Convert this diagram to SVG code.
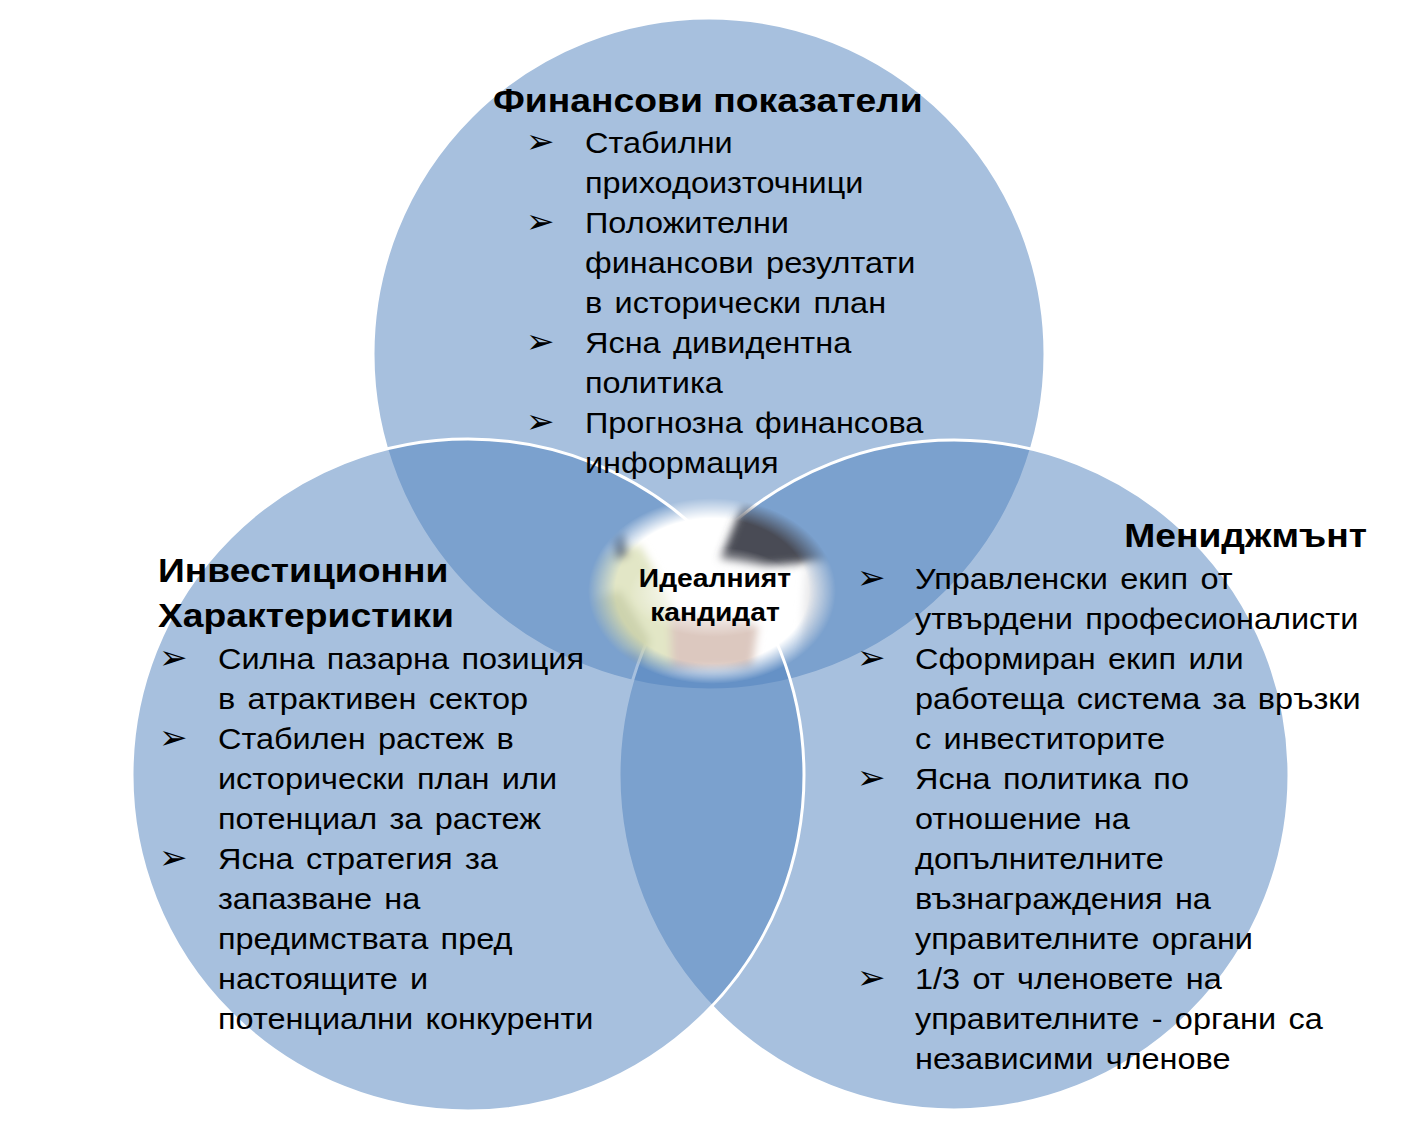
<svg xmlns="http://www.w3.org/2000/svg" width="1420" height="1127" viewBox="0 0 1420 1127">
  <style>
    .circle { fill: #4F81BD; fill-opacity: 0.5; stroke: #FFFFFF; stroke-width: 3; }
    .title { font-family: "Liberation Sans", Arial, sans-serif; font-weight: bold; font-size: 33px; fill: #000000; }
    .body { font-family: "Liberation Sans", Arial, sans-serif; font-size: 29px; fill: #000000; word-spacing: 3px; }
    .bullet { font-family: "DejaVu Sans", sans-serif; font-size: 34px; fill: #000000; }
    .center { font-family: "Liberation Sans", Arial, sans-serif; font-weight: bold; font-size: 25px; fill: #000000; text-anchor: middle; }
  </style>
  <defs>
    <radialGradient id="fade" cx="0.5" cy="0.5" r="0.5">
      <stop offset="0" stop-color="#FFFFFF" stop-opacity="1"/>
      <stop offset="0.78" stop-color="#FFFFFF" stop-opacity="1"/>
      <stop offset="1" stop-color="#FFFFFF" stop-opacity="0"/>
    </radialGradient>
    <radialGradient id="whiteCore" cx="0.5" cy="0.5" r="0.5">
      <stop offset="0" stop-color="#FFFFFF" stop-opacity="0.95"/>
      <stop offset="0.55" stop-color="#FFFFFF" stop-opacity="0.65"/>
      <stop offset="1" stop-color="#FFFFFF" stop-opacity="0"/>
    </radialGradient>
    <mask id="blobMask" maskUnits="userSpaceOnUse" x="560" y="480" width="310" height="230">
      <ellipse cx="712" cy="591" rx="124" ry="93" fill="url(#fade)"/>
    </mask>
    <filter id="blur" x="-20%" y="-20%" width="140%" height="140%">
      <feGaussianBlur stdDeviation="4"/>
    </filter>
  </defs>

  <rect x="0" y="0" width="1420" height="1127" fill="#FFFFFF"/>

  <g id="circles">
    <g id="circle-top"><circle class="circle" cx="709" cy="354" r="336"/></g>
    <g id="circle-right"><circle class="circle" cx="954" cy="775" r="335"/></g>
    <g id="circle-left"><circle class="circle" cx="468" cy="775" r="336"/></g>
  </g>

  <g id="center-image" mask="url(#blobMask)">
    <ellipse cx="712" cy="591" rx="124" ry="93" fill="#FFFFFF"/>
    <g filter="url(#blur)">
      <polygon points="745,498 835,498 838,560 765,566 720,560" fill="#4A4C55"/>
      <polygon points="585,555 640,545 672,600 672,672 585,672" fill="#E2E6C6"/>
      <polygon points="590,600 620,590 650,640 640,672 590,672" fill="#CDD3AE"/>
      <ellipse cx="627" cy="662" rx="12" ry="7" fill="#8C8C84"/>
      <polygon points="670,612 720,614 758,625 752,668 672,670" fill="#DCC8BF"/>
      <polygon points="610,535 622,530 628,555 615,560" fill="#6A6C6E"/>
      <polygon points="806,565 840,560 840,680 800,680" fill="#E8E8EA"/>
    </g>
    <ellipse cx="714" cy="592" rx="85" ry="45" fill="url(#whiteCore)"/>
  </g>

  <g id="node-finance">
    <text class="title" x="493" y="112" transform="translate(493,0) scale(1.13,1) translate(-493,0)">Финансови показатели</text>
    <g class="bullets">
      <text class="bullet" x="526" y="153">➢</text>
      <text class="bullet" x="526" y="233">➢</text>
      <text class="bullet" x="526" y="353">➢</text>
      <text class="bullet" x="526" y="433">➢</text>
    </g>
    <g transform="translate(585,0) scale(1.12,1) translate(-585,0)">
      <text class="body" x="585" y="153">Стабилни</text>
      <text class="body" x="585" y="193">приходоизточници</text>
      <text class="body" x="585" y="233">Положителни</text>
      <text class="body" x="585" y="273">финансови резултати</text>
      <text class="body" x="585" y="313">в исторически план</text>
      <text class="body" x="585" y="353">Ясна дивидентна</text>
      <text class="body" x="585" y="393">политика</text>
      <text class="body" x="585" y="433">Прогнозна финансова</text>
      <text class="body" x="585" y="473">информация</text>
    </g>
  </g>

  <g id="node-investment">
    <g transform="translate(158,0) scale(1.13,1) translate(-158,0)">
      <text class="title" x="158" y="582">Инвестиционни</text>
      <text class="title" x="158" y="627">Характеристики</text>
    </g>
    <g class="bullets">
      <text class="bullet" x="159" y="669">➢</text>
      <text class="bullet" x="159" y="749">➢</text>
      <text class="bullet" x="159" y="869">➢</text>
    </g>
    <g transform="translate(218,0) scale(1.12,1) translate(-218,0)">
      <text class="body" x="218" y="669">Силна пазарна позиция</text>
      <text class="body" x="218" y="709">в атрактивен сектор</text>
      <text class="body" x="218" y="749">Стабилен растеж в</text>
      <text class="body" x="218" y="789">исторически план или</text>
      <text class="body" x="218" y="829">потенциал за растеж</text>
      <text class="body" x="218" y="869">Ясна стратегия за</text>
      <text class="body" x="218" y="909">запазване на</text>
      <text class="body" x="218" y="949">предимствата пред</text>
      <text class="body" x="218" y="989">настоящите и</text>
      <text class="body" x="218" y="1029">потенциални конкуренти</text>
    </g>
  </g>

  <g id="node-management">
    <text class="title" x="1367" y="547" text-anchor="end" transform="translate(1367,0) scale(1.13,1) translate(-1367,0)">Мениджмънт</text>
    <g class="bullets">
      <text class="bullet" x="857" y="589">➢</text>
      <text class="bullet" x="857" y="669">➢</text>
      <text class="bullet" x="857" y="789">➢</text>
      <text class="bullet" x="857" y="989">➢</text>
    </g>
    <g transform="translate(915,0) scale(1.12,1) translate(-915,0)">
      <text class="body" x="915" y="589">Управленски екип от</text>
      <text class="body" x="915" y="629">утвърдени професионалисти</text>
      <text class="body" x="915" y="669">Сформиран екип или</text>
      <text class="body" x="915" y="709">работеща система за връзки</text>
      <text class="body" x="915" y="749">с инвеститорите</text>
      <text class="body" x="915" y="789">Ясна политика по</text>
      <text class="body" x="915" y="829">отношение на</text>
      <text class="body" x="915" y="869">допълнителните</text>
      <text class="body" x="915" y="909">възнаграждения на</text>
      <text class="body" x="915" y="949">управителните органи</text>
      <text class="body" x="915" y="989">1/3 от членовете на</text>
      <text class="body" x="915" y="1029">управителните - органи са</text>
      <text class="body" x="915" y="1069">независими членове</text>
    </g>
  </g>

  <g id="node-center" transform="translate(715,0) scale(1.13,1) translate(-715,0)">
    <text class="center" x="715" y="587">Идеалният</text>
    <text class="center" x="715" y="621">кандидат</text>
  </g>
</svg>
